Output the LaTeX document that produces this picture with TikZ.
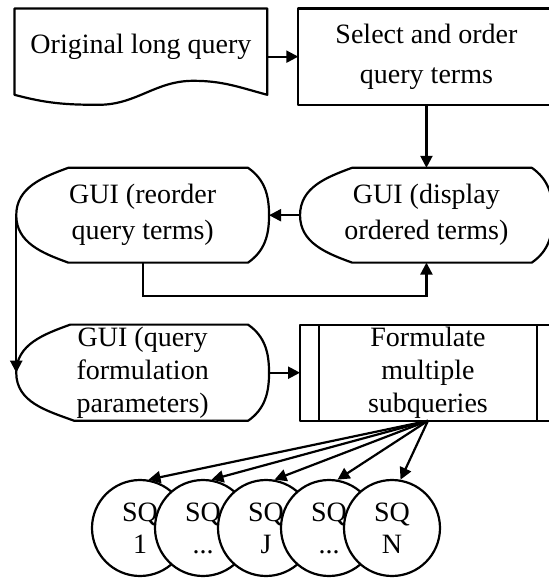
\documentclass[tikz,border=0pt]{standalone}
\usepackage{fontspec}
\setmainfont{Liberation Serif}
\usetikzlibrary{positioning,arrows.meta,calc}
\tikzset{
  fig/.style={font=\fontsize{14pt}{18pt}\selectfont},
  txtbox/.style={minimum height=47pt,minimum width=126pt,align=center,inner sep=1pt},
  outline/.style={line width=1.1pt,line join=round},
  ln/.style={-{Triangle[length=6pt,width=6pt]},line width=1.1pt},
  sqnode/.style={circle,draw,line width=1.1pt,fill=white,minimum size=48pt,inner sep=0pt,
                 align=center,font=\fontsize{14pt}{16pt}\selectfont},
}

\begin{document}
\begin{tikzpicture}[fig]
\useasboundingbox (0,0) rectangle (274pt,-289.5pt);

% top row
\node[txtbox,minimum height=42.75pt,text depth=8pt,anchor=north west] (doc) at (7.25pt,-4.25pt) {Original long query};
\node[txtbox,minimum height=47.75pt,minimum width=127.75pt,font=\fontsize{14pt}{20pt}\selectfont,
      right=15.5pt of doc.north east,anchor=north west] (select) {Select and order\\query terms};

% GUI row
\node[txtbox,below=31.5pt of select] (display) {GUI (display\\ordered terms)};
\node[txtbox,left=15.5pt of display] (reorder) {GUI (reorder\\query terms)};

% formulation row
\node[txtbox,font=\fontsize{14pt}{16.5pt}\selectfont,below=31pt of reorder] (query) {GUI (query\\formulation\\parameters)};
\node[txtbox,minimum width=127.5pt,font=\fontsize{14pt}{16.5pt}\selectfont,right=15.5pt of query] (formulate) {Formulate\\multiple\\subqueries};

% subqueries
\node[sqnode] (sq1) at (70pt,-264pt) {SQ\\1};
\node[sqnode,on grid,right=31.5pt of sq1] (sq2) {SQ\\...};
\node[sqnode,on grid,right=31.5pt of sq2] (sqj) {SQ\\J};
\node[sqnode,on grid,right=31.5pt of sqj] (sq4) {SQ\\...};
\node[sqnode,on grid,right=31.5pt of sq4] (sqn) {SQ\\N};

% outlines
\draw[outline] (doc.north west) -- (doc.north east) -- (doc.south east)
  to[out=165,in=0] ($(doc.south east)+(-37pt,7pt)$)
  to[out=180,in=0] ($(doc.south west)+(42pt,-5pt)$)
  to[out=180,in=-15] (doc.south west) -- cycle;
\draw[outline] (select.north west) rectangle (select.south east);
\draw[outline] (formulate.north west) rectangle (formulate.south east);
\draw[outline] ($(formulate.north west)+(9.5pt,0)$) -- ($(formulate.south west)+(9.5pt,0)$);
\draw[outline] ($(formulate.north east)+(-9.5pt,0)$) -- ($(formulate.south east)+(-9.5pt,0)$);
\draw[outline] ($(display.north west)+(26pt,0)$) -- ($(display.north east)+(-10.5pt,0)$)
  to[out=-35,in=90] (display.east) to[out=-90,in=35] ($(display.south east)+(-10.5pt,0)$)
  -- ($(display.south west)+(26pt,0)$) to[out=160,in=-90] (display.west)
  to[out=90,in=200] cycle;
\draw[outline] ($(reorder.north west)+(26pt,0)$) -- ($(reorder.north east)+(-10.5pt,0)$)
  to[out=-35,in=90] (reorder.east) to[out=-90,in=35] ($(reorder.south east)+(-10.5pt,0)$)
  -- ($(reorder.south west)+(26pt,0)$) to[out=160,in=-90] (reorder.west)
  to[out=90,in=200] cycle;
\draw[outline] ($(query.north west)+(27pt,0)$) -- ($(query.north east)+(-10.5pt,0)$)
  to[out=-35,in=90] (query.east) to[out=-90,in=35] ($(query.south east)+(-10.5pt,0)$)
  -- ($(query.south west)+(29pt,0)$) to[out=160,in=-90] (query.west)
  to[out=90,in=200] cycle;

% connectors
\draw[ln] (select.west -| doc.east) -- (select.west);
\draw[ln] (select.south) -- (display.north);
\draw[ln] (display.west) -- (reorder.east);
\draw[ln] (reorder.south) -- ++(0,-16.5pt) -| (display.south);
\draw[ln] (reorder.west) -- (query.west);
\draw[ln] (query.east) -- (formulate.west);
\draw[ln] (formulate.south) -- (sq1.80);
\draw[ln] (formulate.south) -- (sq2.80);
\draw[ln] (formulate.south) -- (sqj.80);
\draw[ln] (formulate.south) -- (sq4.80);
\draw[ln] (formulate.south) -- (sqn.80);

\end{tikzpicture}
\end{document}
